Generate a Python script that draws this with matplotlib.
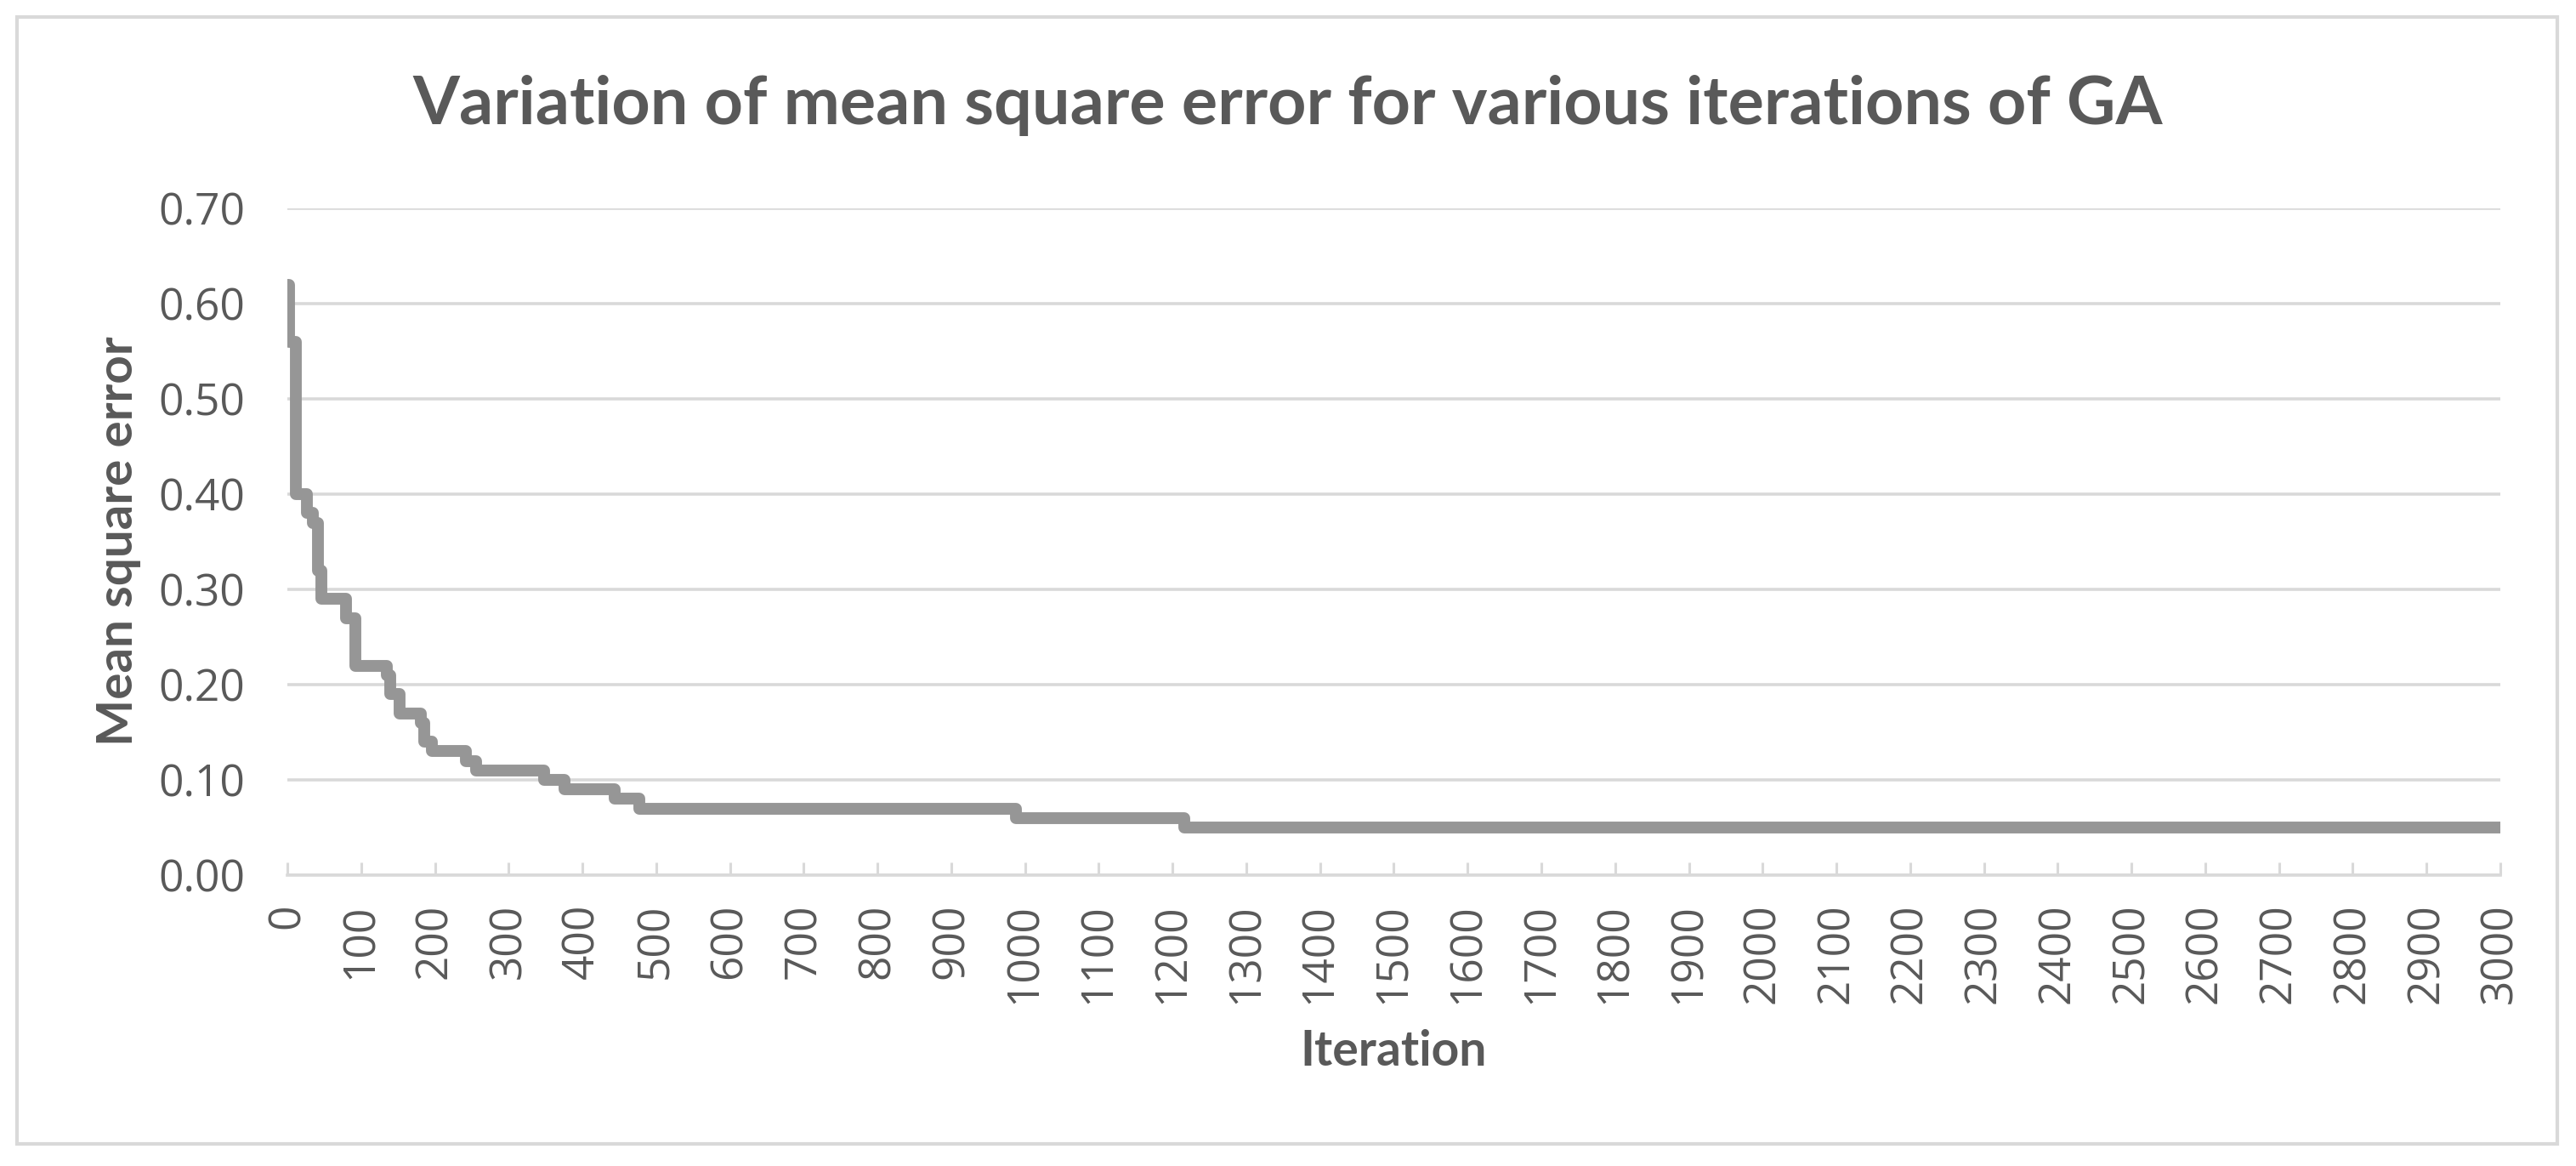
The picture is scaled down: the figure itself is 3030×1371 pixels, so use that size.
import matplotlib
matplotlib.use("Agg")
import matplotlib.pyplot as plt
from matplotlib.patches import Rectangle

# GA convergence: iteration where the best MSE changes, and the new value
iterations = [0, 2, 12, 27, 35, 42, 46, 79, 92, 135, 140, 152, 181, 185, 196,
              242, 256, 348, 376, 444, 477, 988, 1216, 3000]
mse = [0.62, 0.56, 0.40, 0.38, 0.37, 0.32, 0.29, 0.27, 0.22, 0.21, 0.19, 0.17,
       0.16, 0.14, 0.13, 0.12, 0.11, 0.10, 0.09, 0.08, 0.07, 0.06, 0.05, 0.05]

x_ticks = list(range(0, 3001, 100))
y_ticks = [0.0, 0.1, 0.2, 0.3, 0.4, 0.5, 0.6, 0.7]

text_color = '#595959'
grid_color = '#d9d9d9'
line_color = '#969696'

W, H = 3030, 1371
fig = plt.figure(figsize=(W / 100, H / 100), dpi=100)
ax = fig.add_axes([338 / W, 1 - 1029 / H, (2941 - 338) / W, (1029 - 245) / H])

ax.plot(iterations, mse, drawstyle='steps-post', color=line_color, lw=10,
        solid_capstyle='round', solid_joinstyle='round', zorder=3)

ax.set_xlim(0, 3000)
ax.set_ylim(0, 0.7)
ax.set_xticks(x_ticks)
ax.set_xticklabels([str(t) for t in x_ticks], rotation=90)
ax.set_yticks(y_ticks)
ax.set_yticklabels(['%.2f' % v for v in y_ticks])

ax.grid(axis='y', color=grid_color, lw=2.6)
ax.set_axisbelow(True)
for s in ['top', 'right', 'left']:
    ax.spines[s].set_visible(False)
ax.spines['bottom'].set_color(grid_color)
ax.spines['bottom'].set_linewidth(2.6)
ax.spines['bottom'].set_zorder(2)

ax.tick_params(axis='x', direction='in', length=11, width=2.2, color=grid_color,
               labelsize=37, labelcolor=text_color, pad=24)
ax.tick_params(axis='y', length=0, labelsize=37, labelcolor=text_color, pad=36)
for lab in ax.get_xticklabels() + ax.get_yticklabels():
    lab.set_fontfamily('Open Sans')

# titles
fig.text(1515 / W, 1 - 146 / H, 'Variation of mean square error for various iterations of GA',
         ha='center', va='baseline', fontsize=57, fontweight='bold',
         family='Lato', color=text_color)
fig.text(1639 / W, 1 - 1253 / H, 'Iteration', ha='center', va='baseline',
         fontsize=41, fontweight='bold', family='Lato', color=text_color)
fig.text(140 / W, 1 - 636 / H, 'Mean square error', ha='center', va='center',
         rotation=90, fontsize=42, fontweight='bold', family='Lato', color=text_color)

# chart border
fig.patches.append(Rectangle((20 / W, 26 / H), (3008 - 20) / W, (1351 - 26) / H,
                             transform=fig.transFigure, fill=False,
                             ec=grid_color, lw=3))

fig.savefig('out.png', dpi=100, facecolor='white')
